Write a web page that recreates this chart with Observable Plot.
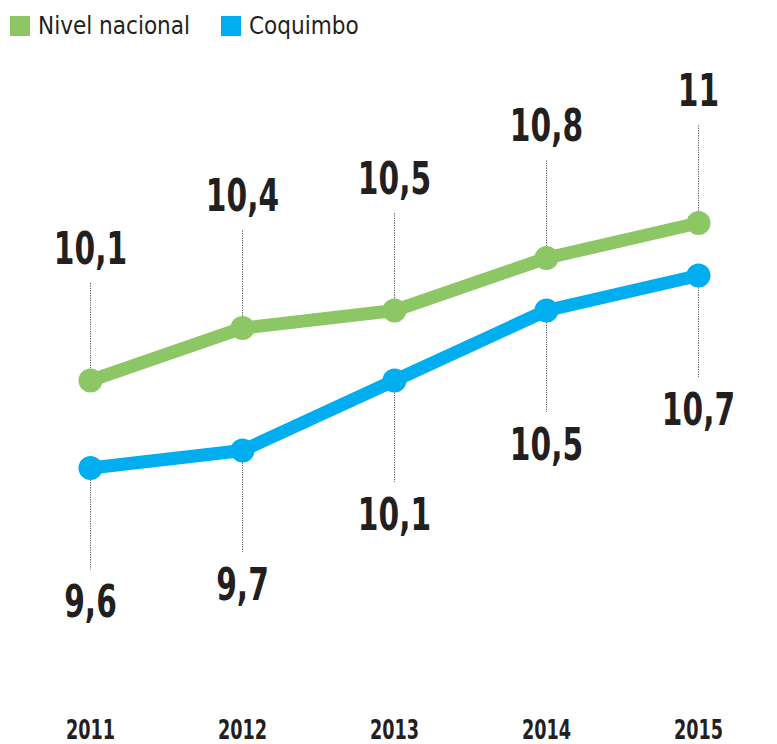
<!DOCTYPE html>
<html>
<head>
<meta charset="utf-8">
<script src="https://cdn.jsdelivr.net/npm/d3@7"></script>
<script src="https://cdn.jsdelivr.net/npm/@observablehq/plot@0.6"></script>
<style>
  body { margin: 0; background: #fff; }
  #legend { height: 50px; position: relative; font-family: "DejaVu Sans", sans-serif; font-size: 24px; color: #231f20; }
  .item { position: absolute; top: 12px; display: flex; align-items: center; }
  .sw { width: 20px; height: 20px; margin-right: 8px; }
  .lbl { display: inline-block; transform: scaleX(0.9); transform-origin: left center; }
</style>
</head>
<body>
<div id="legend">
  <div class="item" style="left:10px"><span class="sw" style="background:#8DC665"></span><span class="lbl">Nivel nacional</span></div>
  <div class="item" style="left:221px"><span class="sw" style="background:#00AEEF"></span><span class="lbl">Coquimbo</span></div>
</div>
<div id="chart"></div>
<script>
const years = ["2011", "2012", "2013", "2014", "2015"];
const nacional = [10.1, 10.4, 10.5, 10.8, 11];
const coquimbo = [9.6, 9.7, 10.1, 10.5, 10.7];
const seriesNames = ["Nivel nacional", "Coquimbo"];
const seriesColors = ["#8DC665", "#00AEEF"];

const fmt = v => String(v).replace(".", ",");
const nat = years.map((y, i) => ({year: y, value: nacional[i], series: seriesNames[0]}));
const coq = years.map((y, i) => ({year: y, value: coquimbo[i], series: seriesNames[1]}));

const labelFont = '"DejaVu Sans", sans-serif';

const chart = Plot.plot({
  width: 777,
  height: 694,
  marginTop: 0,
  marginBottom: 30,
  marginLeft: 0,
  marginRight: 0,
  x: {type: "point", domain: years, range: [88, 699], padding: 0},
  y: {domain: [9, 11.5], range: [522.5, 85], axis: null},
  style: {fontFamily: labelFont, color: "#231f20", background: "#fff"},
  marks: [
    Plot.ruleX(nat, {x: "year", y1: "value", y2: "value", insetTop: -97, insetBottom: 10, stroke: "#555", strokeWidth: 1, strokeDasharray: "1.2,1.2"}),
    Plot.ruleX(coq, {x: "year", y1: "value", y2: "value", insetTop: 10, insetBottom: -102, stroke: "#555", strokeWidth: 1, strokeDasharray: "1.2,1.2"}),
    Plot.line(nat, {x: "year", y: "value", stroke: seriesColors[0], strokeWidth: 13, strokeLinejoin: "round"}),
    Plot.line(coq, {x: "year", y: "value", stroke: seriesColors[1], strokeWidth: 13, strokeLinejoin: "round"}),
    Plot.dot(nat, {x: "year", y: "value", r: 12, fill: seriesColors[0]}),
    Plot.dot(coq, {x: "year", y: "value", r: 12, fill: seriesColors[1]}),
    Plot.text(nat, {x: "year", y: "value", text: d => fmt(d.value), dy: -131, fontSize: 45, fontWeight: "bold", fill: "#231f20"}),
    Plot.text(coq, {x: "year", y: "value", text: d => fmt(d.value), dy: 135, fontSize: 45, fontWeight: "bold", fill: "#231f20"}),
    Plot.axisX({tickSize: 0, tickPadding: 6, fontSize: 26, fontWeight: "bold", label: null, fill: "#231f20"})
  ]
});
document.getElementById("chart").append(chart);

function condense(selector, k) {
  d3.select(chart).selectAll(selector).each(function() {
    const el = d3.select(this);
    let t = el.attr("transform");
    if (!t) {
      const x = +el.attr("x") || 0, y = +el.attr("y") || 0;
      t = `translate(${x},${y})`;
      el.attr("x", null).attr("y", null);
    }
    el.attr("transform", `${t} scale(${k},1)`);
  });
}
condense('g[aria-label="text"] text', 0.66);
condense('g[aria-label="x-axis tick label"] text', 0.68);
</script>
</body>
</html>
